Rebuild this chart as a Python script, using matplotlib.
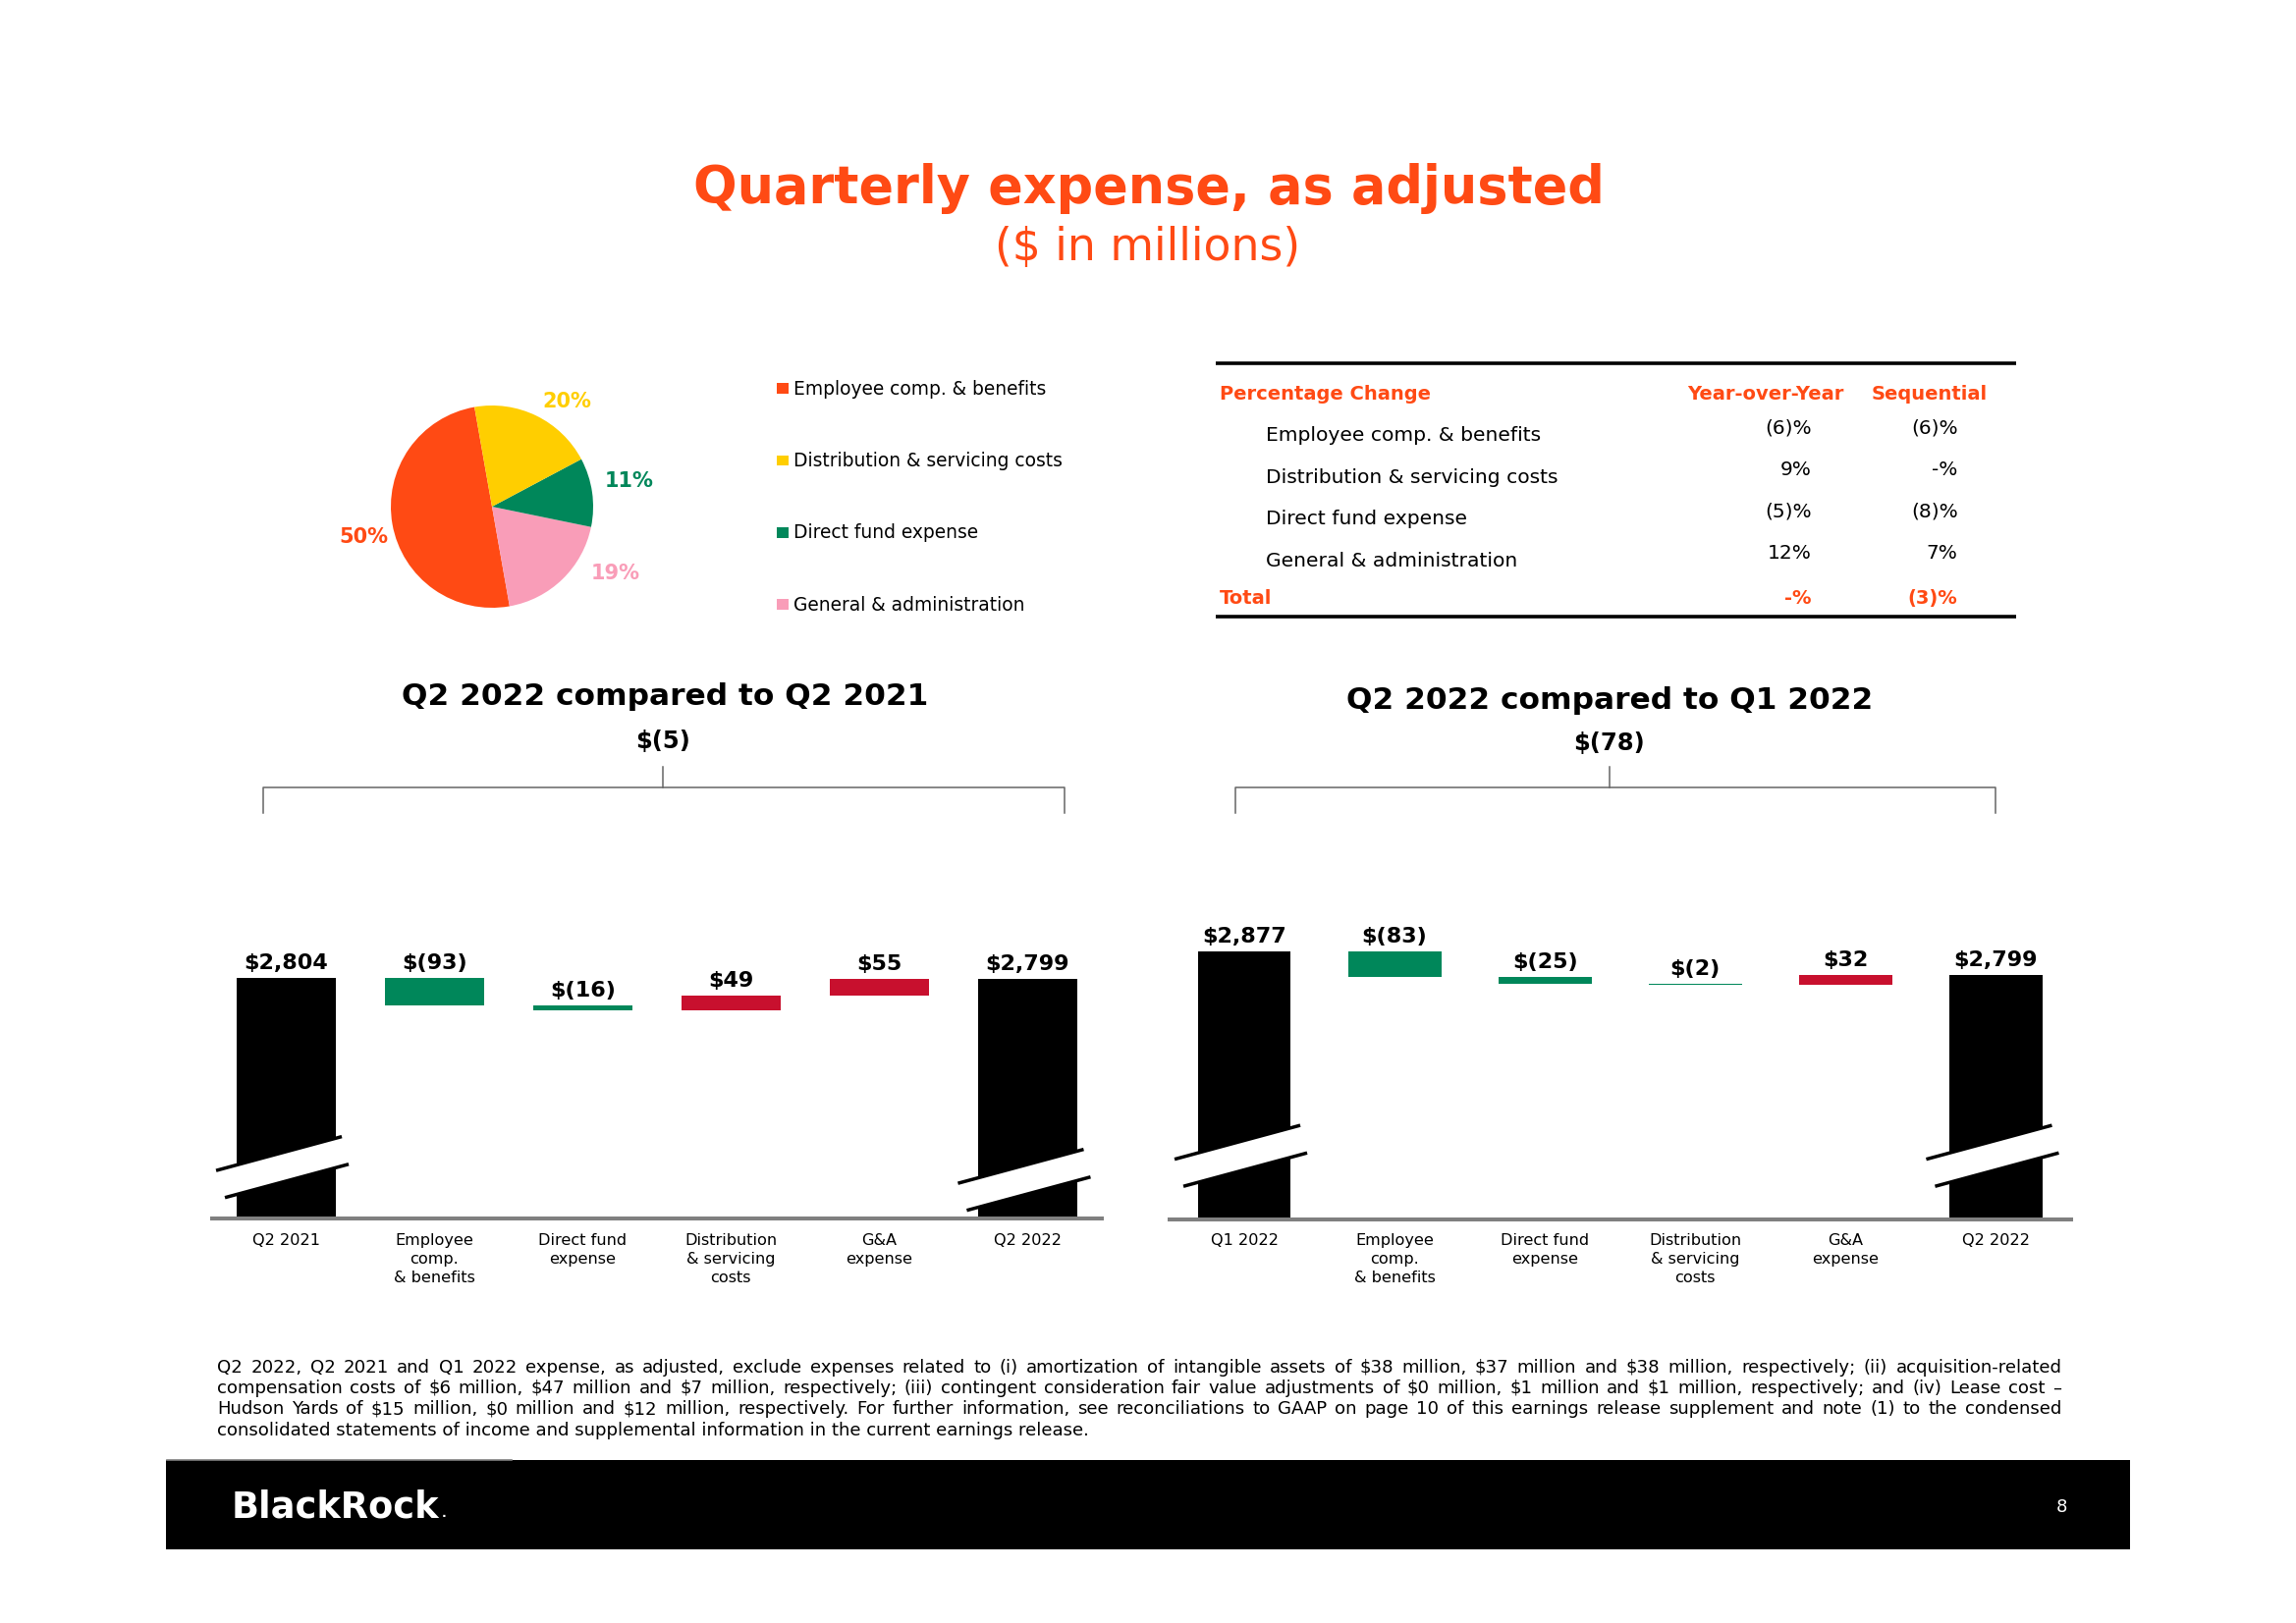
import matplotlib
matplotlib.use("Agg")
import matplotlib.pyplot as plt
from matplotlib.patches import Rectangle, Polygon
import numpy as np

plt.rcParams["text.parse_math"] = False
plt.rcParams["font.family"] = ["DejaVu Sans"]

# ---------------- data ----------------
pie_categories = ["Employee comp. & benefits", "Distribution & servicing costs",
                  "Direct fund expense", "General & administration"]
pie_shares = [50, 20, 11, 19]

table_rows = ["Employee comp. & benefits", "Distribution & servicing costs",
              "Direct fund expense", "General & administration"]
yoy_change = [-6, 9, -5, 12]
seq_change = [-6, 0, -8, 7]
total_yoy = 0
total_seq = -3

wf_left_categories = ["Q2 2021", "Employee\ncomp.\n& benefits", "Direct fund\nexpense",
                      "Distribution\n& servicing\ncosts", "G&A\nexpense", "Q2 2022"]
wf_left_values = [2804, -93, -16, 49, 55, 2799]
wf_right_categories = ["Q1 2022", "Employee\ncomp.\n& benefits", "Direct fund\nexpense",
                       "Distribution\n& servicing\ncosts", "G&A\nexpense", "Q2 2022"]
wf_right_values = [2877, -83, -25, -2, 32, 2799]

footnote_lines = [
    "Q2 2022, Q2 2021 and Q1 2022 expense, as adjusted, exclude expenses related to (i) amortization of intangible assets of $38 million, $37 million and $38 million, respectively; (ii) acquisition-related",
    "compensation costs of $6 million, $47 million and $7 million, respectively; (iii) contingent consideration fair value adjustments of $0 million, $1 million and $1 million, respectively; and (iv) Lease cost \u2013",
    "Hudson Yards of $15 million, $0 million and $12 million, respectively. For further information, see reconciliations to GAAP on page 10 of this earnings release supplement and note (1) to the condensed",
    "consolidated statements of income and supplemental information in the current earnings release.",
]

# ---------------- style ----------------
ORANGE = "#FF4A14"
YELLOW = "#FFCE00"
GREEN = "#00875A"
PINK = "#F99DB8"
RED = "#C8102E"
GRAY = "#808080"
BRACKET = "#666666"
pie_colors = [ORANGE, YELLOW, GREEN, PINK]
pie_draw_order = [0, 3, 2, 1]
pie_label_pos = [(-1.27, -0.30), (0.74, 1.04), (1.36, 0.25), (1.22, -0.665)]

W, H, DPI = 2338, 1653, 100
fig = plt.figure(figsize=(W / DPI, H / DPI), dpi=DPI)
fig.patch.set_facecolor("white")
renderer = fig.canvas.get_renderer()


def px_axes(x0, y0, x1, y1, **kw):
    return fig.add_axes([x0 / W, 1 - y1 / H, (x1 - x0) / W, (y1 - y0) / H], **kw)


canvas = fig.add_axes([0, 0, 1, 1], zorder=10)
canvas.set_xlim(0, W)
canvas.set_ylim(H, 0)
canvas.set_axis_off()


def fit_text(ax, x, y, s, width, base=20, **kw):
    t = ax.text(x, y, s, fontsize=base, **kw)
    w = t.get_window_extent(renderer).width
    t.set_fontsize(base * width / w)
    return t


def money(v):
    return f"$({abs(v):,})" if v < 0 else f"${v:,}"


def pct(v):
    if v < 0:
        return f"({abs(v)})%"
    if v == 0:
        return "-%"
    return f"{v}%"


# ---------------- titles ----------------
fit_text(canvas, 1170, 206.7, "Quarterly expense, as adjusted", 929, ha="center",
         va="baseline", fontweight="bold", color=ORANGE)
fit_text(canvas, 1169, 265, "($ in millions)", 312, ha="center", va="baseline", color=ORANGE)

# ---------------- pie ----------------
pax = px_axes(501 - 103, 516 - 103, 501 + 103, 516 + 103)
pax.pie([pie_shares[i] for i in pie_draw_order],
        colors=[pie_colors[i] for i in pie_draw_order],
        startangle=100, counterclock=True, radius=1,
        wedgeprops=dict(linewidth=0))
pax.set_xlim(-1, 1)
pax.set_ylim(-1, 1)
for share, col, (lx, ly) in zip(pie_shares, pie_colors, pie_label_pos):
    pax.text(lx, ly, f"{share}%", color=col, fontsize=15, fontweight="bold",
             ha="center", va="center")

# legend
for i, (cat, col) in enumerate(zip(pie_categories, pie_colors)):
    yb = 401.7 + 73.3 * i
    canvas.add_patch(Rectangle((791, yb - 11.5), 11.5, 10.7, color=col, lw=0))
    canvas.text(807.6, yb, cat, fontsize=13.4, va="baseline", ha="left", color="black")

# ---------------- table ----------------
canvas.plot([1238, 2053], [370, 370], color="black", lw=2.6, solid_capstyle="butt")
canvas.plot([1238, 2053], [628.3, 628.3], color="black", lw=2.6, solid_capstyle="butt")
hdr = dict(fontsize=14, fontweight="bold", color=ORANGE, va="baseline")
canvas.text(1242, 406.7, "Percentage Change", ha="left", **hdr)
canvas.text(1798.3, 406.7, "Year-over-Year", ha="center", **hdr)
canvas.text(1964.8, 406.7, "Sequential", ha="center", **hdr)
for i, (lab, a, b) in enumerate(zip(table_rows, yoy_change, seq_change)):
    yl = 449.3 + 42.5 * i
    canvas.text(1289, yl, lab, fontsize=14.6, ha="left", va="baseline")
    canvas.text(1844.4, yl - 8, pct(a), fontsize=14.5, ha="right", va="baseline")
    canvas.text(1993.6, yl - 8, pct(b), fontsize=14.5, ha="right", va="baseline")
canvas.text(1242, 615, "Total", ha="left", **hdr)
canvas.text(1844.4, 615, pct(total_yoy), ha="right", **hdr)
canvas.text(1993.6, 615, pct(total_seq), ha="right", **hdr)


# ---------------- waterfalls ----------------
def bracket(x0, x1, xc, y=802, drop=26, rise=21):
    canvas.plot([x0, x0, x1, x1], [y + drop, y, y, y + drop], color=BRACKET, lw=1.1)
    canvas.plot([xc, xc], [y, y - rise], color=BRACKET, lw=1.1)


def draw_break(cx, cy):
    slope = 0.27
    up = lambda x: cy - 15 - slope * (x - cx)
    lo = lambda x: cy + 15 - slope * (x - cx)
    xl, xr = cx - 72, cx + 66
    canvas.add_patch(Polygon([(xl, up(xl)), (xr, up(xr)), (xr, lo(xr)), (xl, lo(xl))],
                             closed=True, facecolor="white", edgecolor="none"))
    canvas.plot([cx - 71, cx + 57], [up(cx - 71), up(cx + 57)], color="black", lw=2.5,
                solid_capstyle="butt")
    canvas.plot([cx - 62, cx + 64], [lo(cx - 62), lo(cx + 64)], color="black", lw=2.5,
                solid_capstyle="butt")


def waterfall(ax, cats, vals, ylim, width, break_px):
    n = len(vals)
    x = np.arange(n)
    bottoms, heights, colors, tops = [], [], [], []
    level = vals[0]
    for i, v in enumerate(vals):
        if i == 0 or i == n - 1:
            bottoms.append(ylim[0])
            heights.append(v - ylim[0])
            colors.append("black")
            tops.append(v)
        else:
            new = level + v
            bottoms.append(min(level, new))
            heights.append(abs(v))
            colors.append(GREEN if v < 0 else RED)
            tops.append(max(level, new))
            level = new
    ax.set_xlim(-0.5, n - 0.5)
    ax.set_ylim(*ylim)
    ax.bar(x, heights, bottom=bottoms, width=width, color=colors, linewidth=0, zorder=2)
    ax.axhline(ylim[0], color=GRAY, lw=2.9, zorder=3, clip_on=False)
    for i, v in enumerate(vals):
        ax.annotate(money(v), (i, tops[i]), xytext=(0, 6.5), textcoords="offset points",
                    ha="center", va="baseline", fontsize=16, fontweight="bold")
    ax.set_xticks(x)
    ax.set_xticklabels(cats, fontsize=11.6, linespacing=1.35)
    ax.tick_params(axis="x", length=0, pad=10.5)
    ax.set_yticks([])
    for s in ax.spines.values():
        s.set_visible(False)
    ax.patch.set_visible(False)
    for k, i in enumerate((0, n - 1)):
        dx, dy = ax.transData.transform((i, ylim[0]))
        draw_break(dx, (H - dy) - break_px[k])


axl = px_axes(215.5, 900, 1122, 1241)
waterfall(axl, wf_left_categories, wf_left_values, (2000, 3118), 0.668, (53, 40))
axr = px_axes(1190.5, 900, 2109, 1241.5)
waterfall(axr, wf_right_categories, wf_right_values, (2000, 3098), 0.62, (65, 65))

# section headings
canvas.text(677, 718.3, "Q2 2022 compared to Q2 2021", fontsize=22.5, fontweight="bold",
            ha="center", va="baseline")
canvas.text(675, 762, money(wf_left_values[-1] - wf_left_values[0]), fontsize=17.5,
            fontweight="bold", ha="center", va="baseline")
canvas.text(1639, 722.5, "Q2 2022 compared to Q1 2022", fontsize=22.5, fontweight="bold",
            ha="center", va="baseline")
canvas.text(1639, 763.5, money(wf_right_values[-1] - wf_right_values[0]), fontsize=17.5,
            fontweight="bold", ha="center", va="baseline")
bracket(268.4, 1084, 675)
bracket(1257.7, 2032, 1639)

# ---------------- footnote ----------------
X0, X1 = 221, 2099.5
probe = canvas.text(0, 0, footnote_lines[-1], fontsize=20)
fn_size = 20 * 891 / probe.get_window_extent(renderer).width
probe.remove()
for k, line in enumerate(footnote_lines):
    yb = 1397.5 + 21.4 * k
    if k < len(footnote_lines) - 1:
        words = line.split(" ")
        ts = [canvas.text(0, yb, w, fontsize=fn_size, ha="left", va="baseline") for w in words]
        ws = [t.get_window_extent(renderer).width for t in ts]
        gap = (X1 - X0 - sum(ws)) / (len(words) - 1)
        xx = X0
        for t, w in zip(ts, ws):
            t.set_x(xx)
            xx += w + gap
    else:
        canvas.text(X0, yb, line, fontsize=fn_size, ha="left", va="baseline")

# ---------------- footer ----------------
canvas.add_patch(Rectangle((168.5, 1487), 2000.5, 90.5, color="black", lw=0))
canvas.plot([170, 521], [1486.5, 1486.5], color="#7f7f7f", lw=1.2)
logo = fit_text(canvas, 236, 1545, "BlackRock", 212, ha="left", va="baseline",
                fontweight="bold", color="white")
lx1 = logo.get_window_extent(renderer).x1
canvas.text(lx1 + 2, 1545, ".", fontsize=9, color="white", ha="left", va="baseline",
            fontweight="bold")
canvas.text(2099, 1540, "8", fontsize=13, color="white", ha="center", va="baseline")

fig.savefig("out.png", dpi=DPI, facecolor="white")
